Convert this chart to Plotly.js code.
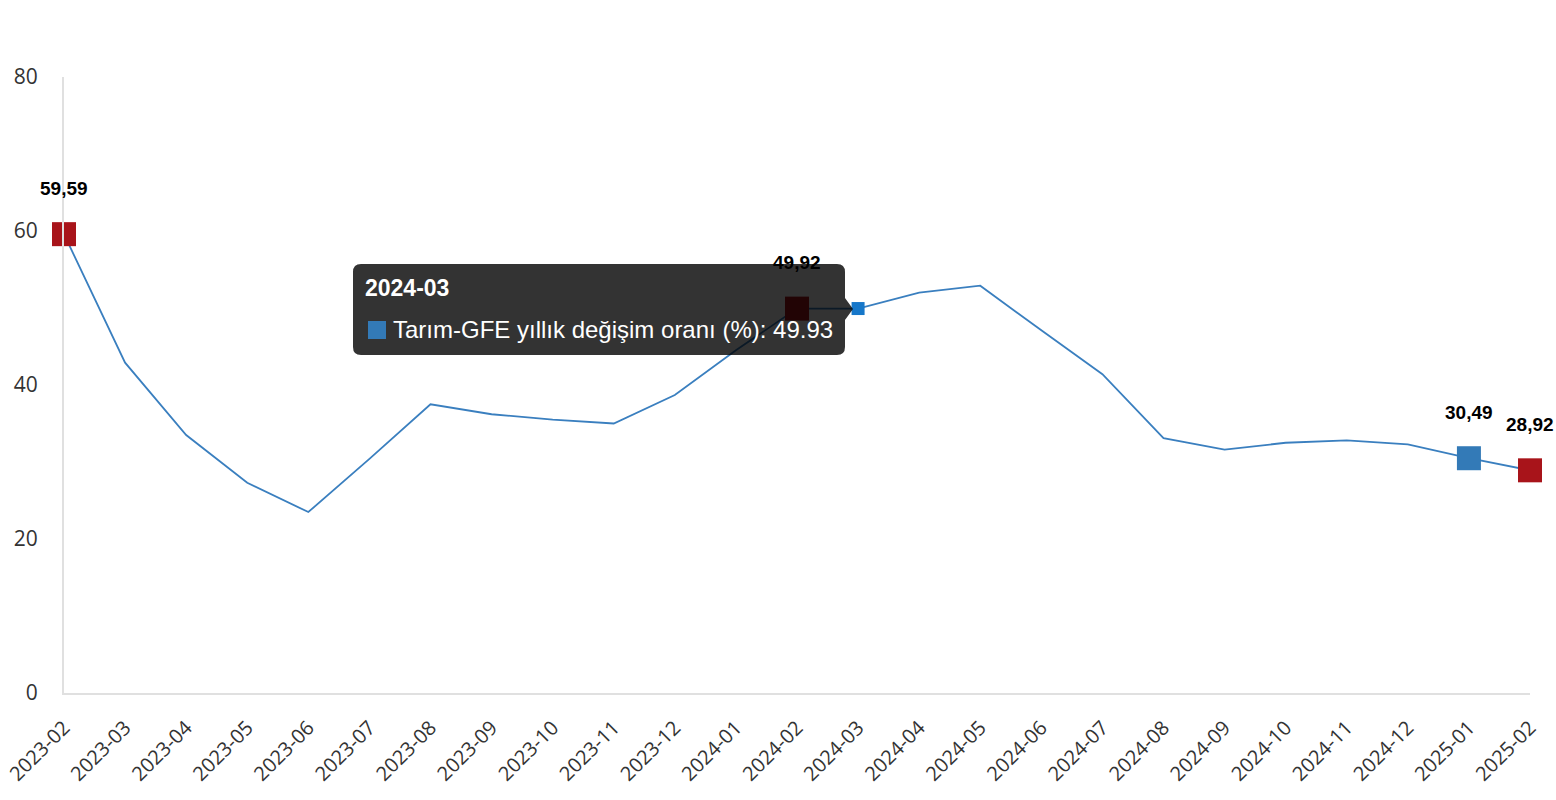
<!DOCTYPE html>
<html>
<head>
<meta charset="utf-8">
<script src="https://cdn.plot.ly/plotly-3.0.1.min.js"></script>
<style>
  html, body { margin: 0; padding: 0; background: #fff; }
  #chart { width: 1556px; height: 800px; }
</style>
</head>
<body>
<div id="chart"></div>
<script>
// ---- data ----
const categories = ['2023-02','2023-03','2023-04','2023-05','2023-06','2023-07','2023-08','2023-09','2023-10','2023-11','2023-12','2024-01','2024-02','2024-03','2024-04','2024-05','2024-06','2024-07','2024-08','2024-09','2024-10','2024-11','2024-12','2025-01','2025-02'];
const values = [59.59, 42.9, 33.5, 27.3, 23.5, 30.4, 37.5, 36.2, 35.5, 35.0, 38.7, 44.5, 49.92, 49.93, 52.0, 52.9, 47.1, 41.4, 33.1, 31.6, 32.5, 32.8, 32.3, 30.49, 28.92];
const seriesName = 'Tarım-GFE yıllık değişim oranı (%)';
const labeledPoints = ['2023-02', '2024-02', '2025-01', '2025-02'];
const redPoints = ['2023-02', '2024-02', '2025-02'];
const bluePoints = ['2025-01'];
const hoveredPoint = '2024-03';

// ---- styling ----
const LINE = '#3a7fbf';
const RED = '#a8141a';
const BLUE = '#337ab7';
const HOVER_BLUE = '#1677c9';

const W = 1556, H = 800;
const M = {l: 64, r: 26, t: 77, b: 107};
const PW = W - M.l - M.r, PH = H - M.t - M.b;
const px = x => (x - M.l) / PW;
const py = y => (H - M.b - y) / PH;

const sizes = categories.map(c => redPoints.includes(c) || bluePoints.includes(c) ? 24 : (c === hoveredPoint ? 13 : 0));
const colors = categories.map(c => redPoints.includes(c) ? RED : (c === hoveredPoint ? HOVER_BLUE : BLUE));

const trace = {
  x: categories,
  y: values,
  type: 'scatter',
  mode: 'lines+markers',
  name: seriesName,
  cliponaxis: false,
  line: {color: LINE, width: 1.8},
  marker: {symbol: 'square', size: sizes, color: colors, opacity: 1, line: {width: 0}},
  hoverinfo: 'skip'
};

const fmt = v => v.toFixed(2).replace('.', ',');
const annotations = labeledPoints.map(c => {
  const i = categories.indexOf(c);
  return {
    x: c, y: values[i], xref: 'x', yref: 'y',
    text: '<b>' + fmt(values[i]) + '</b>',
    showarrow: false, yshift: 46,
    font: {family: 'Liberation Sans, Arial, sans-serif', size: 19, color: '#000'}
  };
});

// Tooltip (static hover box for 2024-03)
const hi = categories.indexOf(hoveredPoint);
const bx0 = 353, bx1 = 845, by0 = 264, by1 = 355, r = 8;
function roundRect(x0, y0, x1, y1, rr) {
  const P = (x, y) => px(x).toFixed(5) + ',' + py(y).toFixed(5);
  return 'M' + P(x0 + rr, y0) + ' L' + P(x1 - rr, y0) + ' Q' + P(x1, y0) + ' ' + P(x1, y0 + rr) +
    ' L' + P(x1, 298) + ' L' + P(853, 309) + ' L' + P(x1, 320) +
    ' L' + P(x1, y1 - rr) + ' Q' + P(x1, y1) + ' ' + P(x1 - rr, y1) +
    ' L' + P(x0 + rr, y1) + ' Q' + P(x0, y1) + ' ' + P(x0, y1 - rr) +
    ' L' + P(x0, y0 + rr) + ' Q' + P(x0, y0) + ' ' + P(x0 + rr, y0) + ' Z';
}
const shapes = [
  {type: 'path', xref: 'paper', yref: 'paper', path: roundRect(bx0, by0, bx1, by1, r),
   fillcolor: 'rgba(0,0,0,0.8)', line: {width: 0}, layer: 'above'},
  {type: 'rect', xref: 'paper', yref: 'paper', x0: px(368), x1: px(386), y0: py(339), y1: py(321),
   fillcolor: BLUE, line: {width: 0}, layer: 'above'}
];
annotations.push({
  xref: 'paper', yref: 'paper', x: px(363), y: py(288), xanchor: 'left', yanchor: 'middle',
  text: '<b>' + categories[hi] + '</b>', showarrow: false,
  font: {family: 'Liberation Sans, Arial, sans-serif', size: 23, color: '#fff'}
});
annotations.push({
  xref: 'paper', yref: 'paper', x: px(391), y: py(329), xanchor: 'left', yanchor: 'middle',
  text: seriesName + ': ' + values[hi].toFixed(2), showarrow: false,
  font: {family: 'Liberation Sans, Arial, sans-serif', size: 24, color: '#fff'}
});

const layout = {
  width: W, height: H,
  margin: M,
  paper_bgcolor: '#fff', plot_bgcolor: '#fff',
  showlegend: false,
  xaxis: {
    type: 'category', range: [0, categories.length - 1],
    showgrid: false, zeroline: false,
    showline: true, linecolor: '#e0e0e0', linewidth: 2,
    ticks: 'outside', ticklen: 13, tickcolor: 'rgba(0,0,0,0)',
    tickangle: -45, tickfont: {family: 'Open Sans, sans-serif', size: 20, color: '#333'}
  },
  yaxis: {
    range: [0, 80], tickvals: [0, 20, 40, 60, 80],
    showgrid: false, zeroline: false,
    showline: true, linecolor: '#e0e0e0', linewidth: 2,
    ticks: 'outside', ticklen: 20, tickcolor: 'rgba(0,0,0,0)',
    tickfont: {family: 'Open Sans, sans-serif', size: 21, color: '#333'}
  },
  shapes: shapes,
  annotations: annotations
};

Plotly.newPlot('chart', [trace], layout, {displayModeBar: false, staticPlot: true});
</script>
</body>
</html>
